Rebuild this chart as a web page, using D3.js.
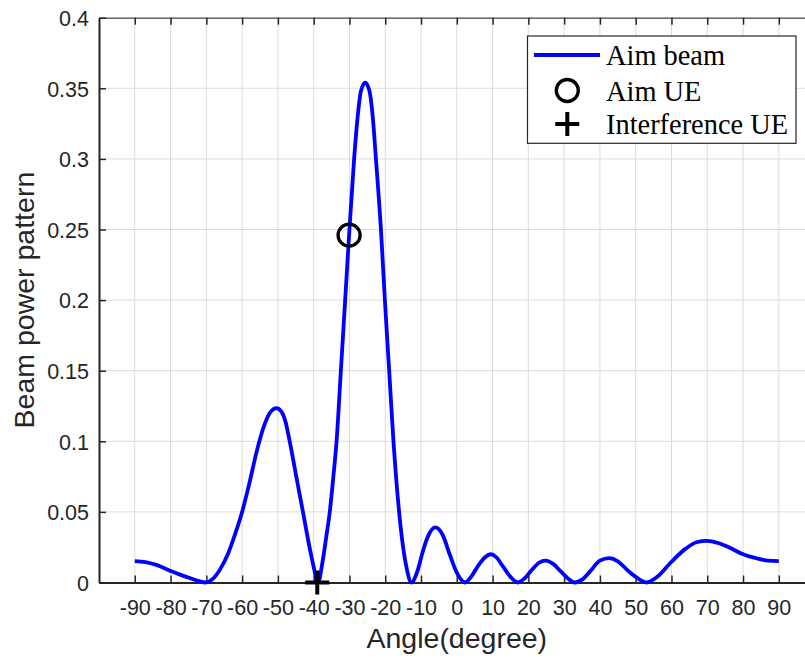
<!DOCTYPE html>
<html>
<head>
<meta charset="utf-8">
<script src="https://cdn.jsdelivr.net/npm/d3@7"></script>
<style>
  body { margin: 0; background: #fff; overflow: hidden; }
  svg { display: block; }
  .tick text { font-family: "Liberation Sans", Arial, sans-serif; font-size: 21.5px; fill: #262626; }
</style>
</head>
<body>
<svg id="chart" width="805" height="661"></svg>
<script>
// beam pattern
var angles = [-90, -87, -84, -80, -77, -75, -72, -70.3, -68, -66, -64, -62, -60, -58, -56, -54, -52, -50.4, -49, -48, -46.7, -45, -43, -41, -40, -38.8,
   -37.5, -36.5, -35.5, -34.5, -33.6, -32.4, -31.2, -30.1, -28.7, -27.5, -26.8, -25.6, -24.4, -23.5, -22.6, -21.2, -20.1, -18.9, -17.7, -16.2, -15, -14, -12.7,
   -11, -9.5, -8, -6, -4, -2, 0, 2.3, 4, 6, 8, 9.5, 11, 13, 15, 17.1, 19, 21, 23, 24.8, 27, 29, 31, 33, 35, 37.2, 40, 42.6, 45, 48, 50, 53,
   56, 60, 64, 67, 70, 73, 76, 80, 84, 87, 90];
var power = [0.0152, 0.0145, 0.0125, 0.0082, 0.0052, 0.0035, 0.001, 0, 0.003, 0.010, 0.020, 0.034, 0.050, 0.070, 0.092, 0.110, 0.121, 0.1235, 0.121, 0.115, 0.100, 0.077, 0.050, 0.023, 0.011, 0,
   0.015, 0.032, 0.050, 0.075, 0.100, 0.150, 0.200, 0.246, 0.300, 0.335, 0.348, 0.354, 0.348, 0.330, 0.300, 0.250, 0.200, 0.150, 0.100, 0.052, 0.025, 0.010, 0,
   0.008, 0.022, 0.033, 0.039, 0.034, 0.020, 0.007, 0, 0.004, 0.012, 0.018, 0.020, 0.018, 0.011, 0.004, 0, 0.003, 0.009, 0.014, 0.0155, 0.013, 0.008, 0.003, 0, 0.002, 0.0077, 0.0155, 0.0172, 0.015, 0.008, 0.004, 0,
   0.004, 0.0147, 0.024, 0.0285, 0.0295, 0.028, 0.025, 0.020, 0.017, 0.0155, 0.0152];

var aimUE = [-30.1, 0.246];
var interfUE = [-39, 0];

var xTicks = [-90, -80, -70, -60, -50, -40, -30, -20, -10, 0, 10, 20, 30, 40, 50, 60, 70, 80, 90];
var yTicks = [0, 0.05, 0.1, 0.15, 0.2, 0.25, 0.3, 0.35, 0.4];
var legendLabels = ["Aim beam", "Aim UE", "Interference UE"];

var plotLeft = 99, plotTop = 17.7, plotW = 715.6, plotH = 564.8;

var svg = d3.select("svg#chart");

var x = d3.scaleLinear().domain([-100, 100]).range([plotLeft, plotLeft + plotW]);
var y = d3.scaleLinear().domain([0, 0.4]).range([plotTop + plotH, plotTop]);

//grid
svg.append("g")
   .selectAll("line")
   .data(xTicks)
   .join("line")
   .attr("x1", (d) => x(d)).attr("x2", (d) => x(d))
   .attr("y1", plotTop).attr("y2", plotTop + plotH)
   .attr("stroke", "#dcdcdc").attr("stroke-width", 1);
svg.append("g")
   .selectAll("line")
   .data(yTicks)
   .join("line")
   .attr("x1", plotLeft).attr("x2", plotLeft + plotW)
   .attr("y1", (d) => y(d)).attr("y2", (d) => y(d))
   .attr("stroke", "#dcdcdc").attr("stroke-width", 1);

// top box line with ticks
var topAxis = svg.append("g")
   .attr("transform", "translate(0," + plotTop + ")")
   .call(d3.axisBottom(x).tickValues(xTicks).tickSize(7).tickSizeOuter(0).tickFormat(""));
topAxis.select(".domain").attr("stroke", "#6a6a6a").attr("stroke-width", 1.4);
topAxis.selectAll(".tick line").attr("stroke", "#262626").attr("stroke-width", 1.5);

// bottom axis
var xAxis = svg.append("g")
   .attr("transform", "translate(0," + (plotTop + plotH) + ")")
   .call(d3.axisTop(x).tickValues(xTicks).tickSize(7).tickSizeOuter(0).tickFormat((d) => String(d)));
xAxis.select(".domain").attr("stroke", "#262626").attr("stroke-width", 2);
xAxis.selectAll(".tick line").attr("stroke", "#262626").attr("stroke-width", 1.5);
xAxis.selectAll(".tick text").attr("y", 32.5).attr("dy", 0);

// left axis
var yAxis = svg.append("g")
   .attr("transform", "translate(" + plotLeft + ",0)")
   .call(d3.axisRight(y).tickValues(yTicks).tickSize(7).tickSizeOuter(0).tickFormat((d) => String(d)));
yAxis.select(".domain").attr("stroke", "#262626").attr("stroke-width", 2);
yAxis.selectAll(".tick line").attr("stroke", "#262626").attr("stroke-width", 1.5);
yAxis.selectAll(".tick text").attr("x", -10).attr("dy", "0.36em").attr("text-anchor", "end");

// axis titles
svg.append("text")
   .attr("x", x(0)).attr("y", 647.5)
   .attr("text-anchor", "middle")
   .style("font-family", "'Liberation Sans', Arial, sans-serif")
   .style("font-size", "28.5px").style("fill", "#262626")
   .text("Angle(degree)");
svg.append("text")
   .attr("transform", "translate(34," + (plotTop + plotH / 2) + ") rotate(-90)")
   .attr("text-anchor", "middle")
   .style("font-family", "'Liberation Sans', Arial, sans-serif")
   .style("font-size", "28.5px").style("fill", "#262626")
   .text("Beam power pattern");

// beam curve
var pts = angles.map((a, i) => [a, power[i]]);
var line = d3.line()
   .x((d) => x(d[0]))
   .y((d) => y(d[1]))
   .curve(d3.curveMonotoneX);
svg.append("path")
   .datum(pts)
   .attr("d", line)
   .attr("fill", "none")
   .attr("stroke", "#0000ff")
   .attr("stroke-width", 3.8)
   .attr("stroke-linejoin", "round");

// markers
function plus(g, cx, cy, h) {
   g.append("path")
      .attr("d", "M" + (cx - h) + "," + cy + "H" + (cx + h) + "M" + cx + "," + (cy - h) + "V" + (cy + h))
      .attr("stroke", "#000").attr("stroke-width", 4).attr("fill", "none");
}
svg.append("circle")
   .attr("cx", x(aimUE[0])).attr("cy", y(aimUE[1])).attr("r", 11)
   .attr("fill", "none").attr("stroke", "#000").attr("stroke-width", 3.3);
plus(svg, x(interfUE[0]), y(interfUE[1]), 12);

// legend
var lg = svg.append("g");
lg.append("rect")
   .attr("x", 527.5).attr("y", 36).attr("width", 268.5).attr("height", 107.3)
   .attr("fill", "#fff").attr("stroke", "#262626").attr("stroke-width", 1.2);
var rowY = [55, 90.5, 124];
lg.append("line")
   .attr("x1", 534).attr("x2", 600).attr("y1", rowY[0]).attr("y2", rowY[0])
   .attr("stroke", "#0000ff").attr("stroke-width", 3.8);
lg.append("circle")
   .attr("cx", 567.3).attr("cy", rowY[1]).attr("r", 11)
   .attr("fill", "none").attr("stroke", "#000").attr("stroke-width", 3.3);
plus(lg, 567.3, rowY[2], 12);
lg.selectAll("text.lab")
   .data(legendLabels)
   .join("text")
   .attr("class", "lab")
   .attr("x", 606)
   .attr("y", (d, i) => rowY[i] + 10)
   .style("font-family", "'Liberation Serif', 'Times New Roman', serif")
   .style("font-size", "28.4px").style("fill", "#000")
   .text((d) => d);
</script>
</body>
</html>
